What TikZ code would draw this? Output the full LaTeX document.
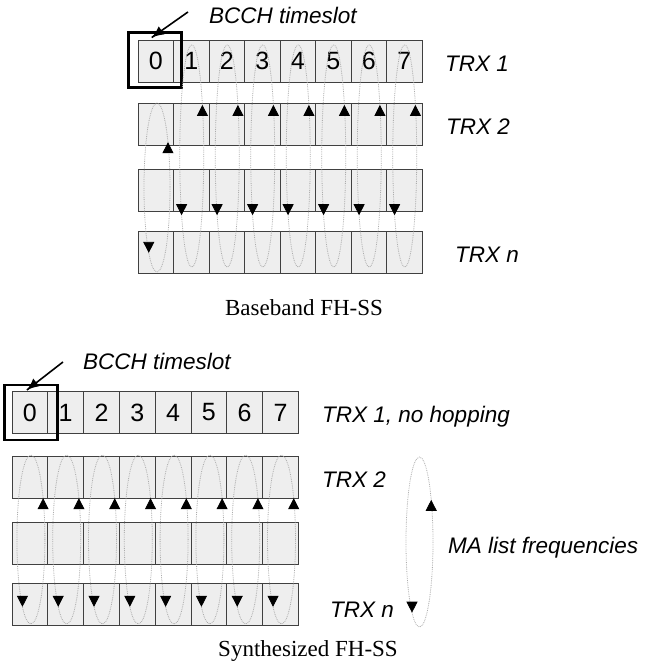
\documentclass[tikz,border=0pt]{standalone}
\usepackage{fontspec}
\setmainfont{Liberation Serif}
\setsansfont{Liberation Sans}
\usetikzlibrary{arrows.meta,decorations.markings}

\begin{document}
\begin{tikzpicture}[x=1pt,y=-1pt,
  cell/.style={draw=gray!50!black,fill=gray!13,line width=1pt,minimum width=35.5pt,minimum height=42pt,inner sep=0pt,font=\sffamily\fontsize{25}{25}\selectfont},
  scell/.style={cell,minimum width=35.8pt},
  lbl/.style={anchor=base west,inner sep=0pt,font=\sffamily\itshape\fontsize{22.5}{27}\selectfont},
  caption/.style={anchor=base,inner sep=0pt,font=\rmfamily\fontsize{23}{27}\selectfont},
  bcchbox/.style={draw=black,line width=2.8pt},
  pointer/.style={line width=1.6pt,postaction={decorate},decoration={markings,
    mark=at position 0.999 with {\pgftransformresetnontranslations\pgftransformrotate{#1}\arrow{Latex[length=12pt,width=10pt]}}}},
  hop/.style={draw=gray!65,densely dotted,line width=0.8pt},
  hopmarks/.style 2 args={postaction={decorate},decoration={markings,
    mark=at position #1 with {\pgftransformresetnontranslations\pgftransformrotate{-90}\arrow{Triangle[length=11pt,width=11pt,color=black]}},
    mark=at position #2 with {\pgftransformresetnontranslations\pgftransformrotate{90}\arrow{Triangle[length=11pt,width=11pt,color=black]}}}}]
\useasboundingbox (0,0) rectangle (650,665);

% Baseband FH-SS
\foreach \k in {0,...,7} {
  \node[cell] (t1-\k) at ({155.75+35.5*\k},61) {\k};
  \node[cell] (t2-\k) at ({155.75+35.5*\k},124) {};
  \node[cell] (t3-\k) at ({155.75+35.5*\k},190) {};
  \node[cell] (t4-\k) at ({155.75+35.5*\k},252) {};
}
\draw[bcchbox] ([xshift=-9pt,yshift=7pt]t1-0.north west) rectangle ([xshift=7.5pt,yshift=-5pt]t1-0.south east);
\foreach \k in {1,...,7}
  \draw[hop,hopmarks={0.369}{0.887}] ({156.25+35.5*\k},156) ellipse [x radius=12,y radius=111];
\draw[hop,hopmarks={0.312}{0.870}] (157,187.5) ellipse [x radius=13,y radius=84.5];

\node[lbl] (bcch-t) at (209,23) {BCCH timeslot};
\draw[pointer=215.8] ([xshift=-21pt,yshift=3pt]bcch-t.west) -- ([xshift=-4pt,yshift=2pt]t1-0.north);
\node[lbl] (trx1-t) at (445,71) {TRX 1};
\node[lbl] (trx2-t) at (446,134) {TRX 2};
\node[lbl] (trxn-t) at (455,262) {TRX n};
\node[caption] (cap-t) at (304,315) {Baseband FH-SS};

% Synthesized FH-SS
\foreach \k in {0,...,7} {
  \node[scell] (s1-\k) at ({29.9+35.8*\k},412.5) {\k};
  \node[scell] (s2-\k) at ({29.9+35.8*\k},477.5) {};
  \node[scell] (s3-\k) at ({29.9+35.8*\k},543) {};
  \node[scell] (s4-\k) at ({29.9+35.8*\k},604) {};
}
\draw[bcchbox] ([xshift=-7pt,yshift=6pt]s1-0.north west) rectangle ([xshift=9pt,yshift=-6pt]s1-0.south east);
\foreach \k in {0,...,7}
  \draw[hop,hopmarks={0.307}{0.882}] ({30.9+35.8*\k},539.5) ellipse [x radius=14,y radius=84.5];
\draw[hop,hopmarks={0.298}{0.88}] (419.5,542) ellipse [x radius=13.5,y radius=85];

\node[lbl] (bcch-s) at (83,369) {BCCH timeslot};
\draw[pointer=218.9] ([xshift=-20pt,yshift=-1pt]bcch-s.west) -- ([xshift=-3pt,yshift=1pt]s1-0.north);
\node[lbl] (trx1-s) at (322,422) {TRX 1, no hopping};
\node[lbl] (trx2-s) at (322,487) {TRX 2};
\node[lbl] (ma) at (448,553) {MA list frequencies};
\node[lbl] (trxn-s) at (330,617) {TRX n};
\node[caption] (cap-s) at (308,656) {Synthesized FH-SS};
\end{tikzpicture}
\end{document}
